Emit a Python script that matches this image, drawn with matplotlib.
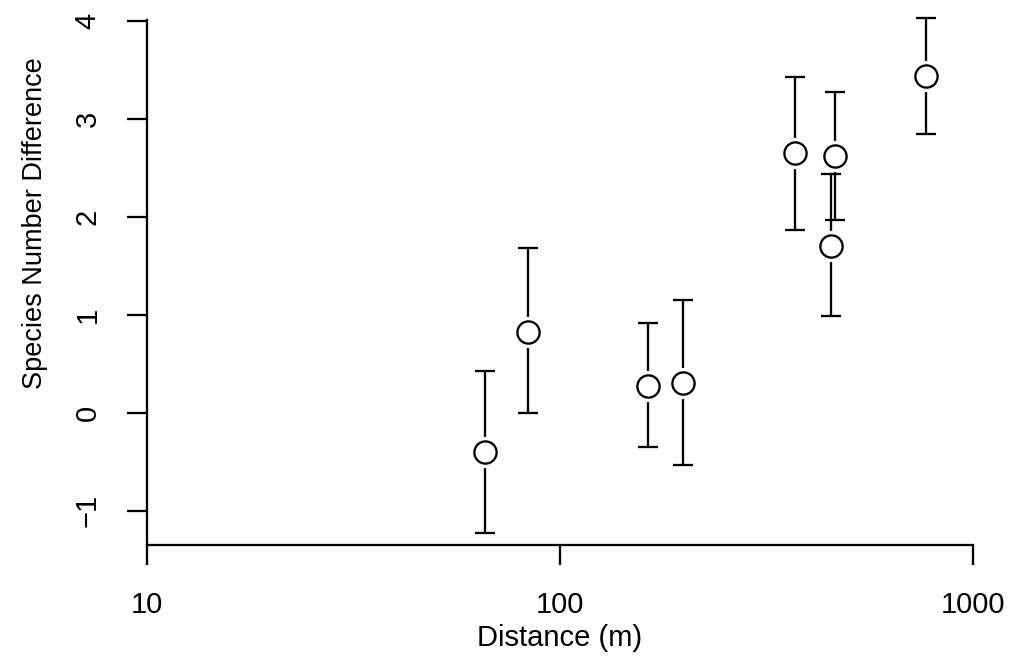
import matplotlib
matplotlib.use("Agg")
import matplotlib.pyplot as plt
import numpy as np

# Data
distance = [66.0, 84.0, 163.9, 198.6, 371.3, 453.9, 464.0, 769.5]
diff_mean = [-0.406, 0.824, 0.270, 0.304, 2.645, 1.699, 2.620, 3.434]
diff_upper = [0.423, 1.676, 0.916, 1.148, 3.420, 2.434, 3.273, 4.028]
diff_lower = [-1.233, -0.008, -0.349, -0.536, 1.862, 0.985, 1.964, 2.842]
x_ticks = [10, 100, 1000]
x_ticklabels = ["10", "100", "1000"]
y_ticks = [-1, 0, 1, 2, 3, 4]
y_ticklabels = ["\u22121", "0", "1", "2", "3", "4"]

plt.rcParams['font.family'] = ['Liberation Sans', 'DejaVu Sans']
FS = 21
FS_YLAB = 19.5
LW = 1.65

W, H = 1015, 664
fig = plt.figure(figsize=(W / 100, H / 100), dpi=100)
left, right, top, bottom = 146.5, 972.7, 20, 545
ax = fig.add_axes([left / W, (H - bottom) / H, (right - left) / W, (bottom - top) / H])

mean = np.array(diff_mean)
up = np.array(diff_upper) - mean
lo = mean - np.array(diff_lower)

ax.errorbar(distance, mean, yerr=[lo, up], fmt='none', ecolor='black',
            elinewidth=LW, capsize=7, capthick=LW, clip_on=False, zorder=2)
# white halo (gap between error bars and circles)
ax.plot(distance, mean, linestyle='none', marker='o', markersize=22.5,
        markerfacecolor='white', markeredgecolor='none', clip_on=False, zorder=3)
ax.plot(distance, mean, linestyle='none', marker='o', markersize=16,
        markerfacecolor='white', markeredgecolor='black', markeredgewidth=LW,
        clip_on=False, zorder=4)

ax.set_xscale('log')
ax.set_xlim(10, 1000)
ax.set_ylim((412.5 - 545) / 98, (412.5 - 20) / 98)

ax.set_xticks(x_ticks)
ax.set_xticklabels(x_ticklabels)
ax.xaxis.set_minor_locator(matplotlib.ticker.NullLocator())
ax.set_yticks(y_ticks)
ax.set_yticklabels(y_ticklabels, rotation=90, va='center')

for s in ['top', 'right']:
    ax.spines[s].set_visible(False)
for s in ['left', 'bottom']:
    ax.spines[s].set_linewidth(LW)

ax.tick_params(axis='both', length=14.4, width=LW, labelsize=FS, direction='out')
ax.tick_params(axis='x', pad=19)
ax.tick_params(axis='y', pad=18)

ax.set_xlabel("Distance (m)", fontsize=FS)
ax.set_ylabel("Species Number Difference", fontsize=FS_YLAB)
ax.xaxis.set_label_coords(0.5, (545 - 638) / 525)
ax.xaxis.label.set_va('center')
ax.yaxis.set_label_coords((35 - 146.5) / 826.2, (545 - 223) / 525)
ax.yaxis.label.set_va('center')

fig.savefig("out.png", dpi=100)
